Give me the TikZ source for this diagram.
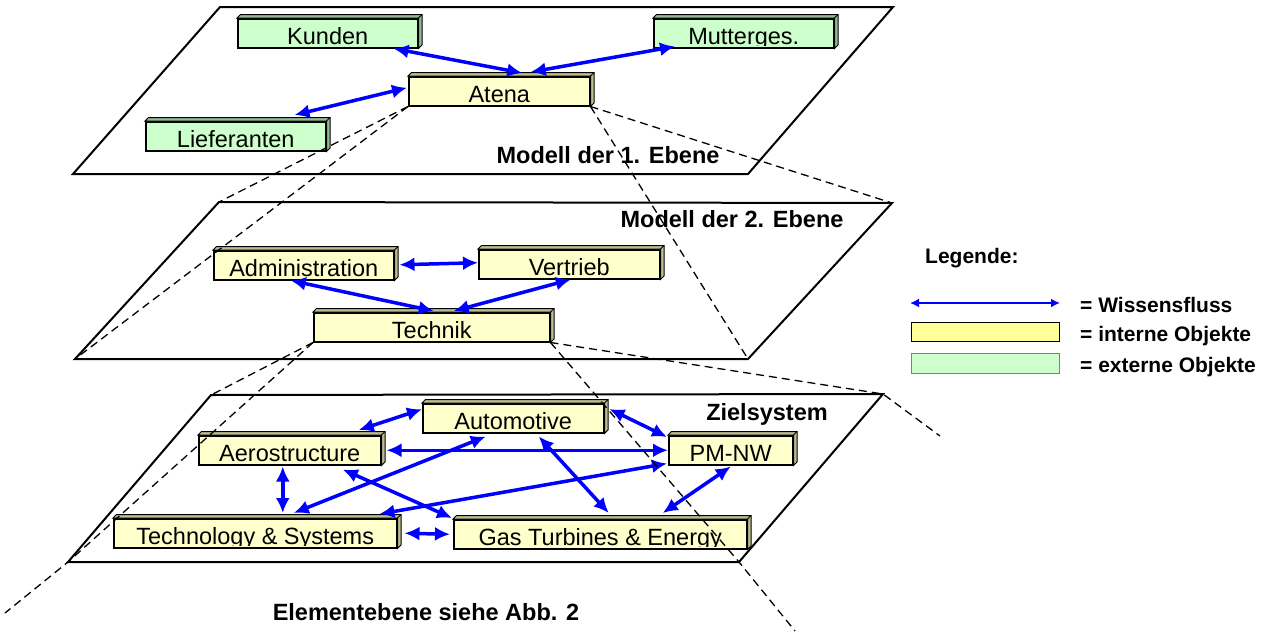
\documentclass[tikz,border=0pt]{standalone}
\usepackage{fontspec}
\setmainfont{Liberation Sans}
\usetikzlibrary{arrows.meta,calc}
\definecolor{byel}{HTML}{FFFFCC}
\definecolor{bgrn}{HTML}{CCFFCC}
\definecolor{dyel}{HTML}{BDBD8F}
\definecolor{dgrn}{HTML}{8FBD8F}
\definecolor{lyel}{HTML}{FFFF99}
\definecolor{flowblue}{HTML}{0000FF}
\newcommand\objfont{\fontsize{23.5}{28}\selectfont}
\newcommand\lblfont{\fontsize{23.5}{28}\selectfont\bfseries}
\newcommand\legfont{\fontsize{21}{25}\selectfont\bfseries}
\newcommand\drawobj[7]{%
  \node[objbox, fill=#5, minimum width=#4pt,
        path picture={\clip (path picture bounding box.north west) rectangle ([yshift=2.6pt]path picture bounding box.south east);
                      \node[objtext] (#1-t) at ([yshift=3.7pt]path picture bounding box.south) {#7};}]
        (#1) at (#2,#3) {};
  \draw[objdepth, fill=#6] (#1.north west) -- ([shift={(3.5pt,3.5pt)}]#1.north west)
     -- ([shift={(3.5pt,3.5pt)}]#1.north east) -- ([shift={(3.5pt,3.5pt)}]#1.south east)
     -- (#1.south east) -- (#1.north east) -- cycle;
  \draw[objdepth] (#1.north east) -- ([shift={(3.5pt,3.5pt)}]#1.north east);
}
\begin{document}
\begin{tikzpicture}[x=1pt,y=-1pt,
  plane/.style={draw=black, line width=2pt, line join=miter},
  objbox/.style={draw=black, line width=1.5pt, rectangle, minimum height=29pt, inner sep=0pt, anchor=north west},
  objtext/.style={anchor=base, inner sep=0pt, font=\objfont},
  objdepth/.style={draw=black, line width=1pt, line join=miter},
  flow/.style={draw=flowblue, line width=3.5pt, {Latex[length=15pt,width=14pt]}-{Latex[length=15pt,width=14pt]}},
  legflow/.style={draw=flowblue, line width=2.5pt, {Latex[length=9pt,width=9pt]}-{Latex[length=9pt,width=9pt]}},
  proj/.style={draw=black, line width=1.3pt, dash pattern=on 8pt off 5pt},
  lbl/.style={anchor=base, inner sep=0pt, font=\lblfont},
  leg/.style={anchor=base west, inner sep=0pt, font=\legfont},
  legbox/.style={rectangle, anchor=north west, inner sep=0pt, minimum width=148pt}
]
\useasboundingbox (0,0) rectangle (1274,632);

% plane corners
\coordinate (p1bl) at (73,174);  \coordinate (p1br) at (748,174);
\coordinate (p1tr) at (893,7);   \coordinate (p1tl) at (220,7);
\coordinate (p2bl) at (75,359);  \coordinate (p2br) at (748,359);
\coordinate (p2tr) at (892,203); \coordinate (p2tl) at (219,202);
\coordinate (p3bl) at (68,562);  \coordinate (p3br) at (739,562);
\coordinate (p3tr) at (883,394); \coordinate (p3tl) at (211,395);
\coordinate (e1) at (5,613); \coordinate (e2) at (795,631); \coordinate (e3) at (940,436);

\draw[plane] (p1bl) -- (p1br) -- (p1tr) -- (p1tl) -- cycle;
\draw[plane] (p2bl) -- (p2br) -- (p2tr) -- (p2tl) -- cycle;
\draw[plane] (p3bl) -- (p3br) -- (p3tr) -- (p3tl) -- cycle;

% level 1
\drawobj{kunden}{237}{18}{180}{bgrn}{dgrn}{Kunden}
\drawobj{mutter}{653}{18}{180}{bgrn}{dgrn}{Mutterges.}
\drawobj{atena}{408}{76}{181}{byel}{dyel}{Atena}
\drawobj{liefer}{145}{121}{180}{bgrn}{dgrn}{Lieferanten}
% level 2
\drawobj{admin}{213}{250}{180}{byel}{dyel}{Administration}
\drawobj{vertrieb}{478}{249}{181}{byel}{dyel}{Vertrieb}
\drawobj{technik}{313}{312}{236}{byel}{dyel}{Technik}
% level 3
\drawobj{auto}{422}{403}{181}{byel}{dyel}{Automotive}
\drawobj{pmnw}{668}{435}{124}{byel}{dyel}{PM-NW}
\drawobj{aero}{198}{435}{182}{byel}{dyel}{Aerostructure}
\drawobj{techsys}{113}{518}{283}{byel}{dyel}{Technology \& Systems}
\drawobj{gasturb}{453}{519}{293}{byel}{dyel}{Gas Turbines \& Energy}

% knowledge flows, level 1
\draw[flow] ([xshift=-25pt]kunden.south east) -- ([xshift=23pt,yshift=3pt]atena.north);
\draw[flow] ([xshift=22pt,yshift=2pt]mutter.south west) -- ([xshift=31.5pt,yshift=4pt]atena.north);
\draw[flow] ([xshift=-32pt,yshift=6pt]liefer.north east) -- ([xshift=-1pt,yshift=3.5pt]atena.west);
% level 2
\draw[flow] ([xshift=5pt,yshift=0.5pt]admin.east) -- ([yshift=1.5pt]vertrieb.west);
\draw[flow] ([xshift=-13pt]admin.south) -- ([xshift=2pt,yshift=1pt]technik.north);
\draw[flow] ([xshift=22pt,yshift=1pt]technik.north) -- ([xshift=1.5pt]vertrieb.south);
% level 3
\draw[flow] ([xshift=69pt,yshift=5pt]aero.north) -- ([yshift=9pt]auto.west);
\draw[flow] ([xshift=5pt]aero.east) -- (pmnw.west);
\draw[flow] ([xshift=-7pt,yshift=-1pt]aero.south) -- ([xshift=27.5pt,yshift=5pt]techsys.north);
\draw[flow] ([xshift=38.5pt,yshift=5pt]techsys.north) -- ([xshift=-27.5pt,yshift=-3pt]auto.south);
\draw[flow] ([xshift=53pt,yshift=-4pt]aero.south) -- ([xshift=-1pt,yshift=1pt]gasturb.north west);
\draw[flow] ([xshift=-18pt,yshift=4pt]techsys.north east) -- ([xshift=-1pt,yshift=2pt]pmnw.south west);
\draw[flow] ([xshift=7pt]techsys.east) -- ([xshift=-3pt]gasturb.west);
\draw[flow] ([xshift=25.5pt,yshift=-3pt]auto.south) -- ([xshift=8.5pt,yshift=6pt]gasturb.north);
\draw[flow] ([xshift=5pt,yshift=-6pt]auto.north east) -- ([xshift=-1pt,yshift=-2pt]pmnw.north west);
\draw[flow] ([yshift=-1pt]pmnw.south) -- ([xshift=62.5pt,yshift=6pt]gasturb.north);

% labels
\node[lbl] (l1) at (608,163) {Modell der 1. Ebene};
\node[lbl] (l2) at (732,227) {Modell der 2. Ebene};
\node[lbl] (l3) at (767,420) {Zielsystem};
\node[lbl] (l4) at (426,620) {Elementebene siehe Abb. 2};

% projection lines
\draw[proj] (atena.south west) -- (p2tl);
\draw[proj] (atena.south west) -- (p2bl);
\draw[proj] (atena.south east) -- (p2tr);
\draw[proj] (atena.south east) -- (p2br);
\draw[proj] (technik.south west) -- (p3tl);
\draw[proj] (technik.south west) -- (p3bl) -- (e1);
\draw[proj] (technik.south east) -- (p3tr) -- (e3);
\draw[proj] (technik.south east) -- (p3br) -- (e2);

% legend
\node[leg] (legt) at (925,263) {Legende:};
\coordinate (la) at (910,303);
\coordinate (lb) at (1060,303);
\draw[legflow] (la) -- (lb);
\node[legbox, draw=black, line width=0.8pt, fill=lyel, minimum height=19pt] (legy) at (911,322) {};
\node[legbox, draw=gray, line width=0.8pt, fill=bgrn, minimum height=20pt] (legg) at (911,353) {};
\node[leg] (leg1) at (1080,312) {= Wissensfluss};
\node[leg] (leg2) at (1080,341) {= interne Objekte};
\node[leg] (leg3) at (1080,372) {= externe Objekte};
\end{tikzpicture}
\end{document}
